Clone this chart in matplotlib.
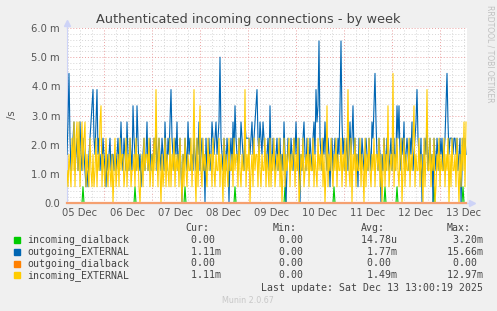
import matplotlib
matplotlib.use('Agg')
import matplotlib.pyplot as plt
import matplotlib.dates as mdates
from matplotlib.ticker import MultipleLocator, FuncFormatter
from matplotlib.patches import Rectangle
import numpy as np
import pandas as pd

# conexiones por muestra de 30 minutos, desde el 05 Dec 05:30
inicio = '2025-12-05 05:30'
paso = '30min'

incoming_dialback = [
    0,0,0,0,0,0,0,0,0,0,0,0,0,0,0,0,1,0,0,0,0,0,0,0,0,
    0,0,0,0,0,0,0,0,0,0,0,0,0,0,0,0,0,0,0,0,0,0,0,0,0,
    0,0,0,0,0,0,0,0,0,0,0,0,0,0,0,0,0,0,1,0,0,0,0,0,0,
    0,0,0,0,0,0,0,0,0,0,0,0,0,0,0,0,0,0,0,0,0,0,0,0,0,
    0,0,0,0,0,0,0,0,0,0,0,0,0,0,0,0,0,0,1,0,0,0,0,0,0,
    0,0,0,0,0,0,0,0,0,0,0,0,0,0,0,0,0,0,0,0,0,0,0,0,0,
    0,0,0,0,0,0,0,0,0,0,0,0,0,0,0,0,0,0,1,0,0,0,0,0,0,
    0,0,0,0,0,0,0,0,0,0,0,0,0,0,0,0,0,0,0,0,0,0,0,0,0,
    0,0,0,0,0,0,0,0,0,0,0,0,0,0,0,0,0,0,1,0,0,0,0,0,0,
    0,0,0,0,0,0,0,0,0,0,0,0,0,0,0,0,0,0,0,0,0,0,0,0,0,
    0,0,0,0,0,0,0,0,0,0,0,0,0,0,0,0,0,1,0,0,0,0,0,0,0,
    0,0,0,0,0,0,0,0,0,0,0,0,0,0,0,0,0,0,0,0,0,0,0,0,0,
    0,0,0,0,0,0,0,0,0,0,0,0,0,0,0,0,0,0,1,0,0,0,0,0,0,
    0,0,0,0,0,1,0,0,0,0,0,0,0,0,0,0,0,0,0,0,0,0,0,0,0,
    0,0,0,0,0,0,0,0,0,0,0,0,0,0,0,0,0,1,0,0,0,0,0,0,0,
    0,0,0,0,0,0,0,0,0,0,0,0,0,0,0,0,0,0,0,0,0,1,0,0,0,
]

outgoing_external = [
    3,5,8,4,2,3,4,5,2,3,4,2,3,5,3,2,4,3,2,1,2,1,3,4,5,
    6,7,4,3,5,7,3,4,2,3,2,4,3,2,1,3,2,3,4,2,3,3,2,3,2,
    3,4,2,3,5,3,2,4,3,2,5,3,2,4,3,2,6,4,3,2,6,4,2,3,1,
    2,3,4,2,3,5,2,3,4,2,3,2,4,3,5,2,3,4,3,2,4,3,2,5,3,
    2,4,3,5,7,4,3,2,4,3,5,2,3,4,2,0,3,2,4,3,2,5,3,4,2,
    3,2,4,3,2,4,3,5,2,3,4,2,3,0,4,2,3,4,2,3,5,4,3,4,5,
    3,4,5,9,4,3,2,4,3,2,4,3,0,3,4,2,5,3,6,4,3,2,4,3,5,
    4,3,2,5,4,4,4,4,3,4,5,3,4,5,6,7,4,3,5,4,3,5,4,3,2,
    3,4,2,6,3,2,4,3,2,3,4,2,3,4,2,3,2,5,3,0,2,4,3,2,4,
    3,2,4,3,5,3,2,4,0,3,2,4,5,3,2,4,3,2,4,3,2,4,5,3,7,
    5,6,10,4,3,2,4,3,5,3,2,4,3,1,3,4,2,3,4,3,2,4,3,6,10,
    5,3,4,2,3,4,2,3,5,3,4,6,3,4,2,3,1,4,3,2,4,3,2,3,4,
    3,2,4,3,2,5,4,6,8,5,3,2,4,3,0,3,2,4,3,2,4,3,2,3,4,
    2,3,4,2,3,6,4,6,3,2,4,3,5,2,3,4,3,2,4,3,5,2,3,4,5,
    7,4,3,2,4,0,3,2,4,3,5,2,3,4,2,3,0,4,3,2,4,3,2,4,3,
    4,2,3,4,6,8,5,3,4,4,4,3,4,4,3,4,2,3,4,0,2,4,3,4,3,
]

outgoing_dialback = [0] * 400

incoming_external = [
    2,1,3,2,1,4,2,5,1,4,5,2,5,1,3,5,2,4,5,1,3,2,1,4,2,
    1,3,1,2,4,1,3,2,5,6,1,3,2,1,4,2,1,3,2,1,3,0,2,4,1,
    2,3,1,4,2,3,3,1,2,4,1,3,2,4,1,2,2,3,1,4,2,3,1,0,2,
    3,1,4,2,3,3,2,4,1,2,3,1,4,2,7,3,1,4,2,0,3,1,2,4,1,
    3,2,1,4,1,3,2,4,1,3,2,3,1,4,2,0,3,1,4,2,1,3,2,2,4,
    1,3,7,2,0,4,1,3,6,2,1,4,2,3,2,1,4,2,3,3,1,4,2,1,3,
    2,2,4,1,3,2,0,4,1,3,2,1,4,2,2,3,1,4,2,3,3,1,4,2,1,
    3,2,2,7,1,3,2,4,0,2,3,1,4,2,3,3,1,4,2,1,3,2,2,4,1,
    3,2,1,4,1,3,2,4,1,2,3,2,4,1,3,0,2,4,1,3,2,3,4,1,3,
    2,3,4,1,3,2,4,0,1,3,2,4,1,2,3,2,4,1,3,2,2,4,1,3,2,
    1,4,2,3,2,4,1,3,0,2,6,1,3,2,4,2,1,3,2,4,1,3,2,2,4,
    1,3,2,4,1,3,7,2,1,4,0,3,2,4,1,3,2,2,4,1,3,2,0,4,1,
    3,2,4,2,1,3,2,4,1,3,3,2,4,1,3,0,2,4,1,3,2,6,1,2,3,
    2,8,1,3,2,4,2,1,3,4,0,2,4,1,3,2,2,4,1,3,2,4,6,1,3,
    2,2,4,1,3,2,0,4,1,3,7,2,2,4,1,3,2,4,0,1,3,2,4,1,3,
    2,2,4,1,3,2,4,0,3,1,4,2,2,3,1,4,2,0,3,1,4,2,5,1,5,
]

nombres = ['incoming_dialback', 'outgoing_EXTERNAL', 'outgoing_dialback', 'incoming_EXTERNAL']
colores = ['#00CC00', '#0066B3', '#FF8000', '#FFCC00']
series = [incoming_dialback, outgoing_external, outgoing_dialback, incoming_external]
val_cur = [0.0, 1.11e-3, 0.0, 1.11e-3]
val_min = [0.0, 0.0, 0.0, 0.0]
val_avg = [14.78e-6, 1.77e-3, 0.0, 1.49e-3]
val_max = [3.20e-3, 15.66e-3, 0.0, 12.97e-3]

W, H = 497, 311


def fig_xy(x, y):
    # pixeles -> fraccion de figura
    return x / W, 1 - y / H


def formato(v):
    if v == 0:
        return f"{0:6.2f} "
    if v < 1e-3:
        return f"{v * 1e6:6.2f}u"
    return f"{v * 1e3:6.2f}m"


fig = plt.figure(figsize=(W / 100, H / 100), dpi=100, facecolor='#F0F0F0')
ax = fig.add_axes([67 / W, 1 - 203 / H, 400 / W, 175 / H])
ax.set_facecolor('white')

tiempos = pd.date_range(inicio, periods=len(outgoing_external), freq=paso)
for datos, color in zip(series, colores):
    tasa = np.array(datos) / 1.8  # conexiones / 1800 s, en milis
    if color == '#FF8000':
        # la linea naranja en cero queda sobre el eje
        ax.plot(tiempos, tasa, color='#f5a070', lw=1.6, zorder=5, clip_on=False)
    else:
        ax.plot(tiempos, tasa, color=color, lw=0.8, zorder=3)

ax.set_xlim(tiempos[0], tiempos[0] + pd.Timedelta(hours=200))
ax.set_ylim(0, 6)

# rejilla estilo rrdtool
ax.xaxis.set_major_locator(mdates.DayLocator())
ax.xaxis.set_major_formatter(FuncFormatter(lambda v, p: ''))
ax.xaxis.set_minor_locator(mdates.HourLocator(byhour=[6, 12, 18]))
ax.xaxis.set_minor_formatter(FuncFormatter(
    lambda v, p: mdates.num2date(v).strftime('%d %b') if mdates.num2date(v).hour == 12 else ''))
ax.yaxis.set_major_locator(MultipleLocator(1))
ax.yaxis.set_minor_locator(MultipleLocator(0.2))
ax.yaxis.set_major_formatter(FuncFormatter(lambda v, p: '0.0' if v == 0 else f'{v:.1f} m'))

ax.grid(which='minor', color='#d6d6d6', lw=0.7, ls=(0, (1, 2)))
ax.grid(which='major', color='#eaa0a0', lw=0.7, ls=(0, (1, 2)))
ax.set_axisbelow(True)

ax.tick_params(which='both', length=0, colors='#555555', labelsize=7.2)
ax.tick_params(axis='y', pad=5)
ax.tick_params(axis='x', which='minor', pad=3.5)

for s in ['top', 'right']:
    ax.spines[s].set_visible(False)
for s in ['left', 'bottom']:
    ax.spines[s].set_color('#cdd3f7')
ax.plot([0, 0], [1, 1.025], color='#cdd3f7', lw=1, transform=ax.transAxes, clip_on=False)
ax.plot([0], [1.03], marker='^', ms=4, color='#cdd3f7', transform=ax.transAxes, clip_on=False)
ax.plot([1, 1.008], [0, 0], color='#cdd3f7', lw=1, transform=ax.transAxes, clip_on=False)
ax.plot([1.012], [0], marker='>', ms=4, color='#cdd3f7', transform=ax.transAxes, clip_on=False)

# textos
fig.text(*fig_xy(248, 19), 'Authenticated incoming connections - by week',
         ha='center', va='center', fontsize=9.3, color='#444444')
fig.text(*fig_xy(12, 115), '/s', rotation=90, ha='center', va='center', fontsize=7.2, color='#555555')
fig.text(*fig_xy(490, 5), 'RRDTOOL / TOBI OETIKER', rotation=270, ha='center', va='top',
         fontsize=5.5, color='#c0c0c0')

mono = dict(family='DejaVu Sans Mono', fontsize=7.1, color='#444444', va='center')
for x, h in zip([185, 273, 361, 447], ['Cur:', 'Min:', 'Avg:', 'Max:']):
    fig.text(*fig_xy(x, 228), h, **mono)

filas = [240, 251.7, 263.5, 275.3]
for i, y in enumerate(filas):
    fig.add_artist(Rectangle(fig_xy(14, y + 3), 6 / W, 6 / H, color=colores[i],
                             transform=fig.transFigure))
    fig.text(*fig_xy(27, y), nombres[i], **mono)
    fig.text(*fig_xy(179, y), formato(val_cur[i]), **mono)
    fig.text(*fig_xy(267, y), formato(val_min[i]), **mono)
    fig.text(*fig_xy(355, y), formato(val_avg[i]), **mono)
    fig.text(*fig_xy(441, y), formato(val_max[i]), **mono)

fig.text(*fig_xy(483, 287.7), 'Last update: Sat Dec 13 13:00:19 2025', ha='right', **mono)
fig.text(*fig_xy(248, 300.5), 'Munin 2.0.67', ha='center', va='center', fontsize=5.8, color='#c8c8c8')

fig.savefig('out.png', dpi=100, facecolor=fig.get_facecolor())
